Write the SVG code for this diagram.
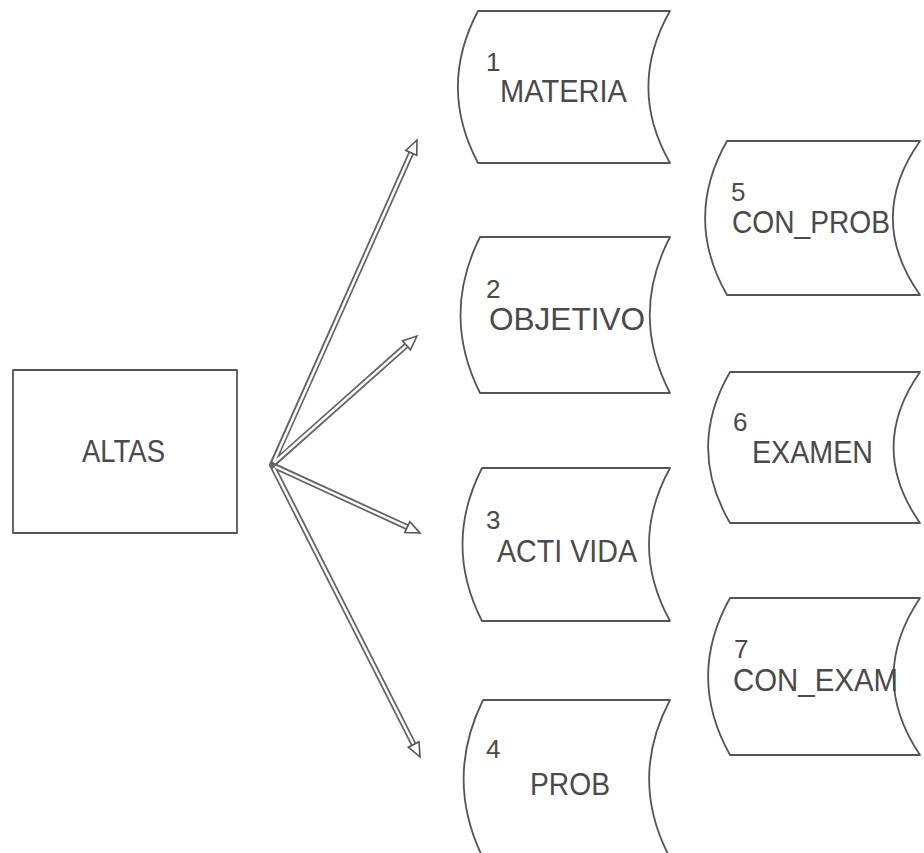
<svg xmlns="http://www.w3.org/2000/svg" width="924" height="853" viewBox="0 0 924 853">
<style>
.shape{fill:#fff;stroke:#555;stroke-width:1.8;stroke-linejoin:round}
.lbl{font-family:"Liberation Sans",Arial,sans-serif;font-size:32px;fill:#4a4a4a}
.num{font-family:"Liberation Sans",Arial,sans-serif;font-size:26px;fill:#4a4a4a}
.outer{stroke:#666;stroke-width:6;fill:none;stroke-linecap:round}
.inner{stroke:#fff;stroke-width:2.4;fill:none;stroke-linecap:round}
.head{fill:#fff;stroke:#555;stroke-width:1.6;stroke-linejoin:miter}
</style>
<rect width="924" height="853" fill="#fff"/>
<g id="altas">
<rect class="shape" x="13" y="370" width="224" height="163"/>
<text class="lbl" x="82" y="462" textLength="83" lengthAdjust="spacingAndGlyphs">ALTAS</text>
</g>
<g id="materia">
<path class="shape" d="M478,11 L670,11 C641,62 641,112 670,163 L478,163 C451,112 451,62 478,11 Z"/>
<text class="num" x="486" y="71">1</text>
<text class="lbl" x="500" y="102" textLength="127" lengthAdjust="spacingAndGlyphs">MATERIA</text>
</g>
<g id="objetivo">
<path class="shape" d="M480,237 L670,237 C643,289 643,341 670,393 L480,393 C454,341 454,289 480,237 Z"/>
<text class="num" x="486" y="298">2</text>
<text class="lbl" x="489" y="330" textLength="156" lengthAdjust="spacingAndGlyphs">OBJETIVO</text>
</g>
<g id="actividad">
<path class="shape" d="M482,468 L670,468 C642,519 642,570 670,621 L482,621 C456,570 456,519 482,468 Z"/>
<text class="num" x="486" y="529">3</text>
<text class="lbl" x="497" y="562" textLength="140" lengthAdjust="spacingAndGlyphs">ACTI VIDA</text>
</g>
<g id="prob">
<path class="shape" d="M483,700 L670,700 C642,753 642,805 670,858 L483,858 C457,805 457,753 483,700 Z"/>
<text class="num" x="486" y="758">4</text>
<text class="lbl" x="530" y="795" textLength="80" lengthAdjust="spacingAndGlyphs">PROB</text>
</g>
<g id="con_prob">
<path class="shape" d="M727,141 L920,141 C884,192 884,244 920,295 L727,295 C698,244 698,192 727,141 Z"/>
<text class="num" x="731" y="201">5</text>
<text class="lbl" x="732" y="233" textLength="158" lengthAdjust="spacingAndGlyphs">CON_PROB</text>
</g>
<g id="examen">
<path class="shape" d="M730,372 L920,372 C885,422 885,473 920,523 L730,523 C701,473 701,422 730,372 Z"/>
<text class="num" x="733" y="431">6</text>
<text class="lbl" x="752" y="463" textLength="121" lengthAdjust="spacingAndGlyphs">EXAMEN</text>
</g>
<g id="con_exam">
<path class="shape" d="M730,598 L920,598 C885,650 885,703 920,755 L730,755 C701,703 701,650 730,598 Z"/>
<text class="num" x="734" y="658">7</text>
<text class="lbl" x="733" y="691" textLength="165" lengthAdjust="spacingAndGlyphs">CON_EXAM</text>
</g>
<g id="connectors">
<path class="outer" d="M272,465 L411.3,152.8 M272,465 L406.5,345.3 M272,465 L407.3,527.2 M272,465 L413.7,744.5"/>
<path class="inner" d="M274,461 L411.3,152.8 M275,462 L406.5,345.3 M276,467 L407.3,527.2 M274,469 L413.7,744.5"/>
<polygon class="head" points="417,140 416.8,155.2 405.8,150.4"/>
<polygon class="head" points="417,336 410.5,349.8 402.5,340.8"/>
<polygon class="head" points="420,533 404.8,532.6 409.8,521.7"/>
<polygon class="head" points="420,757 408.3,747.2 419,741.8"/>
</g>
</svg>
